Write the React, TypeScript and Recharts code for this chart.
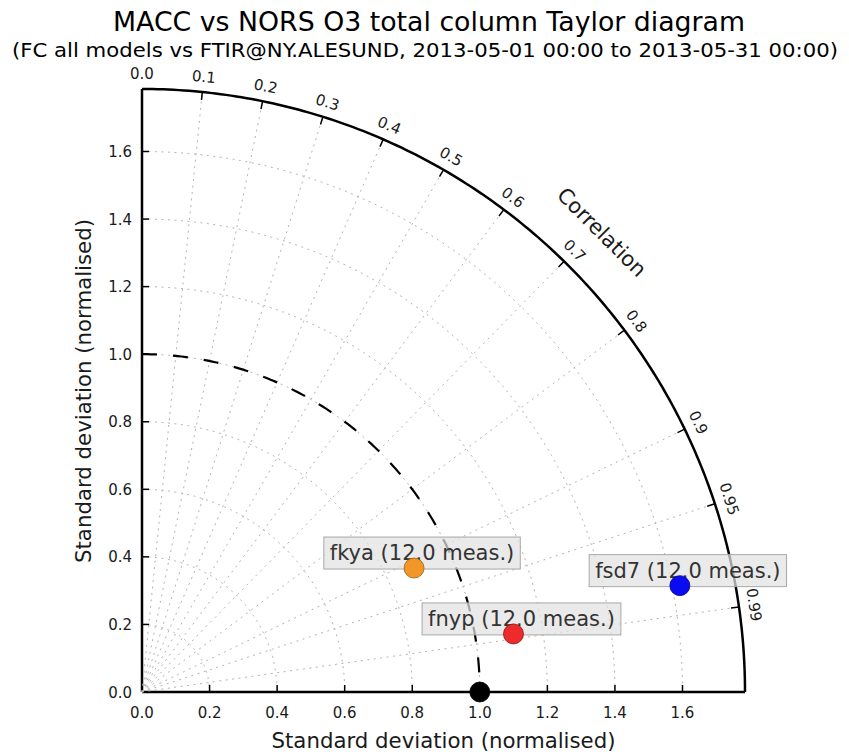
import React from 'react';
import { ScatterChart, Scatter, XAxis, YAxis } from 'recharts';

// ---- chart values ----
const R_MAX = 1.785; // outer radius of the quarter circle (normalised std)
const stdTicks = [0, 0.2, 0.4, 0.6, 0.8, 1.0, 1.2, 1.4, 1.6];
const gridRadii = [0.2, 0.4, 0.6, 0.8, 1.0, 1.2, 1.4, 1.6];
const corrTicks = [0.0, 0.1, 0.2, 0.3, 0.4, 0.5, 0.6, 0.7, 0.8, 0.9, 0.95, 0.99];
const corrTickLabels = ['0.0', '0.1', '0.2', '0.3', '0.4', '0.5', '0.6', '0.7', '0.8', '0.9', '0.95', '0.99'];

const modelNames = ['fkya', 'fnyp', 'fsd7'];
const modelStd = [0.885, 1.113, 1.623];
const modelCorr = [0.910, 0.988, 0.981];
const modelMeas = [12.0, 12.0, 12.0];
const modelColors = ['#f2962a', '#ee2b2b', '#0b0bf2'];
const modelEdges = ['#9a5d10', '#8a1515', '#06068a'];

const refStd = 1.0;
const refCorr = 1.0;

const FONT = "'DejaVu Sans', 'Liberation Sans', sans-serif";

// ---- polar helpers ----
const toXY = (std: number, corr: number) => ({
  x: std * corr,
  y: std * Math.sqrt(Math.max(0, 1 - corr * corr)),
});

const arcPoints = (r: number, steps = 120) => {
  const pts: { x: number; y: number }[] = [];
  for (let i = 0; i <= steps; i++) {
    const a = (Math.PI / 2) * (1 - i / steps);
    pts.push({ x: r * Math.cos(a), y: r * Math.sin(a) });
  }
  return pts;
};

const rayPoints = (corr: number, r0: number, r1: number) => [toXY(r0, corr), toXY(r1, corr)];

const models = modelNames.map((name, i) => ({
  name,
  meas: modelMeas[i],
  color: modelColors[i],
  edge: modelEdges[i],
  ...toXY(modelStd[i], modelCorr[i]),
}));

const refPoint = [{ ...toXY(refStd, refCorr), color: '#000000', edge: '#000000' }];

const corrMarks = corrTicks.map((c, i) => ({
  ...toXY(R_MAX, c),
  theta: Math.acos(c),
  label: corrTickLabels[i],
}));

const corrTitle = [{ ...toXY(R_MAX, Math.cos(Math.PI / 4)), theta: Math.PI / 4 }];

// ---- text measuring for the label boxes ----
let ctx: CanvasRenderingContext2D | null = null;
const measure = (text: string, size: number) => {
  if (typeof document !== 'undefined') {
    if (!ctx) ctx = document.createElement('canvas').getContext('2d');
    if (ctx) {
      ctx.font = `${size}px 'DejaVu Sans'`;
      return ctx.measureText(text).width;
    }
  }
  return text.length * size * 0.52;
};

// ---- shapes ----
const NoShape = () => null;

const CorrTick = (props: any) => {
  const { cx, cy, payload } = props;
  const t = payload.theta;
  const ux = Math.cos(t);
  const uy = -Math.sin(t);
  const lx = cx + 15 * ux;
  const ly = cy + 15 * uy;
  const rot = 90 - (t * 180) / Math.PI;
  return (
    <g>
      <line x1={cx} y1={cy} x2={cx - 8 * ux} y2={cy - 8 * uy} stroke="#000" strokeWidth={1.5} />
      <text
        x={lx}
        y={ly}
        transform={`rotate(${rot}, ${lx}, ${ly})`}
        textAnchor="middle"
        dominantBaseline="central"
        fontSize={15}
        fontFamily={FONT}
        fill="#1a1a1a"
      >
        {payload.label}
      </text>
    </g>
  );
};

const CorrTitle = (props: any) => {
  const { cx, cy, payload } = props;
  const t = payload.theta;
  const lx = cx + 47 * Math.cos(t);
  const ly = cy - 47 * Math.sin(t);
  const rot = 90 - (t * 180) / Math.PI;
  return (
    <text
      x={lx}
      y={ly}
      transform={`rotate(${rot}, ${lx}, ${ly})`}
      textAnchor="middle"
      dominantBaseline="central"
      fontSize={21}
      fontFamily={FONT}
      fill="#1a1a1a"
    >
      Correlation
    </text>
  );
};

const LabelBox = (props: any) => {
  const { cx, cy, payload } = props;
  const text = `${payload.name} (${payload.meas.toFixed(1)} meas.)`;
  const size = 21;
  const w = measure(text, size) + 12;
  const mx = cx + 8;
  const my = cy - 15;
  return (
    <g>
      <rect
        x={mx - w / 2}
        y={my - 16}
        width={w}
        height={32}
        fill="#e2e2e2"
        fillOpacity={0.72}
        stroke="#a8a8a8"
        strokeWidth={1}
      />
      <text x={mx} y={my + 7} textAnchor="middle" fontSize={size} fontFamily={FONT} fill="#333333">
        {text}
      </text>
    </g>
  );
};

const Marker = (props: any) => {
  const { cx, cy, payload } = props;
  return <circle cx={cx} cy={cy} r={10} fill={payload.color} stroke={payload.edge} strokeWidth={0.8} />;
};

const XTick = (props: any) => {
  const { x, y, payload } = props;
  return (
    <g>
      {payload.value > 0 && <line x1={x} y1={y} x2={x} y2={y - 7} stroke="#000" strokeWidth={1.5} />}
      <text x={x} y={y + 26} textAnchor="middle" fontSize={15} fontFamily={FONT} fill="#1a1a1a">
        {Number(payload.value).toFixed(1)}
      </text>
    </g>
  );
};

const YTick = (props: any) => {
  const { x, y, payload } = props;
  return (
    <g>
      {payload.value > 0 && <line x1={x} y1={y} x2={x + 7} y2={y} stroke="#000" strokeWidth={1.5} />}
      <text x={x - 10} y={y + 5.5} textAnchor="end" fontSize={15} fontFamily={FONT} fill="#1a1a1a">
        {Number(payload.value).toFixed(1)}
      </text>
    </g>
  );
};

const gridLine = { stroke: '#b4b4b4', strokeWidth: 1, strokeDasharray: '2 4.5' };

export default function App() {
  return (
    <div style={{ position: 'absolute', left: 0, top: 0, width: 849, height: 752, background: '#fff' }}>
      <ScatterChart width={849} height={752} margin={{ top: 89, right: 104, bottom: 0, left: 62 }}>
        <XAxis
          type="number"
          dataKey="x"
          domain={[0, R_MAX]}
          ticks={stdTicks}
          interval={0}
          tickSize={0}
          tickMargin={0}
          tickLine={false}
          tick={<XTick />}
          axisLine={{ stroke: '#000', strokeWidth: 2.5 }}
          height={60}
        />
        <YAxis
          type="number"
          dataKey="y"
          domain={[0, R_MAX]}
          ticks={stdTicks}
          interval={0}
          tickSize={0}
          tickMargin={0}
          tickLine={false}
          tick={<YTick />}
          axisLine={{ stroke: '#000', strokeWidth: 2.5 }}
          width={80}
        />

        {/* std-dev grid arcs */}
        {gridRadii.map((r) => (
          <Scatter
            key={`arc-${r}`}
            data={arcPoints(r)}
            fill="none"
            line={gridLine}
            shape={NoShape}
            isAnimationActive={false}
          />
        ))}

        {/* correlation grid rays */}
        {corrTicks
          .filter((c) => c > 0)
          .map((c) => (
            <Scatter
              key={`ray-${c}`}
              data={rayPoints(c, 0, R_MAX)}
              fill="none"
              line={gridLine}
              shape={NoShape}
              isAnimationActive={false}
            />
          ))}

        {/* reference std arc */}
        <Scatter
          data={arcPoints(refStd)}
          fill="none"
          line={{ stroke: '#000', strokeWidth: 2.2, strokeDasharray: '15 16' }}
          shape={NoShape}
          isAnimationActive={false}
        />

        {/* outer boundary */}
        <Scatter
          data={arcPoints(R_MAX, 180)}
          fill="none"
          line={{ stroke: '#000', strokeWidth: 2.5 }}
          shape={NoShape}
          isAnimationActive={false}
        />

        {/* correlation ticks and labels */}
        <Scatter data={corrMarks} shape={CorrTick} isAnimationActive={false} />
        <Scatter data={corrTitle} shape={CorrTitle} isAnimationActive={false} />

        {/* model labels, then markers */}
        <Scatter data={models} shape={LabelBox} isAnimationActive={false} />
        <Scatter data={refPoint} shape={Marker} isAnimationActive={false} />
        <Scatter data={models} shape={Marker} isAnimationActive={false} />
      </ScatterChart>

      <svg
        width={849}
        height={752}
        style={{ position: 'absolute', left: 0, top: 0, pointerEvents: 'none' }}
      >
        <text
          x={429}
          y={31}
          textAnchor="middle"
          fontSize={26}
          textLength={632}
          lengthAdjust="spacingAndGlyphs"
          fontFamily={FONT}
          fill="#000"
        >
          MACC vs NORS O3 total column Taylor diagram
        </text>
        <text
          x={425}
          y={57}
          textAnchor="middle"
          fontSize={19.5}
          textLength={826}
          lengthAdjust="spacingAndGlyphs"
          fontFamily={FONT}
          fill="#000"
        >
          (FC all models vs FTIR@NY.ALESUND, 2013-05-01 00:00 to 2013-05-31 00:00)
        </text>
        <text
          x={443.5}
          y={748}
          textAnchor="middle"
          fontSize={20.5}
          textLength={344}
          lengthAdjust="spacingAndGlyphs"
          fontFamily={FONT}
          fill="#1a1a1a"
        >
          Standard deviation (normalised)
        </text>
        <text
          x={91}
          y={391}
          transform="rotate(-90, 91, 391)"
          textAnchor="middle"
          fontSize={20.5}
          textLength={344}
          lengthAdjust="spacingAndGlyphs"
          fontFamily={FONT}
          fill="#1a1a1a"
        >
          Standard deviation (normalised)
        </text>
      </svg>
    </div>
  );
}
